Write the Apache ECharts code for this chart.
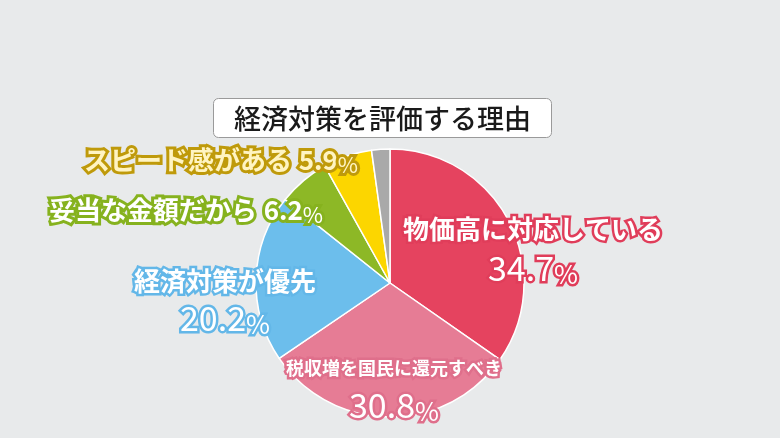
<!DOCTYPE html>
<html><head><meta charset="utf-8">
<script src="https://cdn.jsdelivr.net/npm/echarts@6/dist/echarts.min.js"></script>
<style>html,body{margin:0;padding:0;background:#E8EAEB;}#c{width:780px;height:438px;}</style>
</head><body><div id="c"></div>
<script>
const title = '経済対策を評価する理由';
const categories = ['物価高に対応している','税収増を国民に還元すべき','経済対策が優先','妥当な金額だから','スピード感がある','その他'];
const values = [34.7, 30.8, 20.2, 6.2, 5.9, 2.2];
const sliceColors = ['#E5435F','#E67C95','#6CBEEC','#8DB826','#FCD600','#A9A9A9'];
const strokeColors = ['#E03D5A','#DF6F8B','#63B7E8','#86B21E','#BF9A0A','#999'];
const textColors = ['#fff','#fff','#fff','#fff','#FFF4C2','#fff'];
const labelPos = [[533,248],[394,387],[225,300],[186,210],[221,160],[0,0]];
const FONT = '"Noto Sans CJK JP","Noto Sans",sans-serif';

const chart = echarts.init(document.getElementById('c'));
const data = categories.map((n,i)=>{
  const sc = strokeColors[i];
  const big = i <= 2;
  const nameSize = i === 1 ? 18 : 26;
  const tc = textColors[i];
  const bw = big ? 5 : 6;
  return {
    name: n, value: values[i],
    itemStyle: {color: sliceColors[i]},
    label: {
      show: i < 5,
      formatter: big ? '{n|{b}}\n{v|{c}}{p|%}' : '{n|{b}}  {v|{c}}{p|%}',
      rich: {
        n: {fontSize: nameSize, fontWeight: 'bold', color: tc, textBorderColor: sc, textBorderWidth: bw, fontFamily: FONT, lineHeight: big ? (i===0?40:36) : 32},
        v: {fontSize: big ? 34 : 26, fontWeight: big ? 'normal' : 'bold', color: tc, textBorderColor: sc, textBorderWidth: bw, fontFamily: FONT, lineHeight: big?38:32},
        p: {fontSize: big ? 26 : 22, fontWeight: 'normal', color: tc, textBorderColor: sc, textBorderWidth: bw, fontFamily: FONT, lineHeight: big?38:32, verticalAlign: 'bottom'}
      }
    }
  };
});

chart.setOption({
  backgroundColor: '#E8EAEB',
  animation: false,
  graphic: [{
    type: 'group', left: 213, top: 98,
    children: [
      {type: 'rect', shape: {x:0, y:0, width: 338, height: 39, r: 5}, style: {fill: '#fff', stroke: '#9a9a9a', lineWidth: 1}},
      {type: 'text', x: 169, y: 20, style: {text: title, font: '500 27px ' + FONT, fill: '#1a1a1a', align: 'center', verticalAlign: 'middle'}}
    ]
  }],
  series: [{
    type: 'pie',
    center: [390, 283],
    radius: [0, 134],
    startAngle: 90,
    clockwise: true,
    data: data,
    itemStyle: {borderColor: '#fff', borderWidth: 1.5},
    label: {position: 'inside', align: 'center'},
    labelLine: {show: false},
    labelLayout: function (p) {
      const pos = labelPos[p.dataIndex];
      return {x: pos[0], y: pos[1], align: 'center', verticalAlign: 'middle'};
    },
    emphasis: {disabled: true}
  }]
});
</script></body></html>
